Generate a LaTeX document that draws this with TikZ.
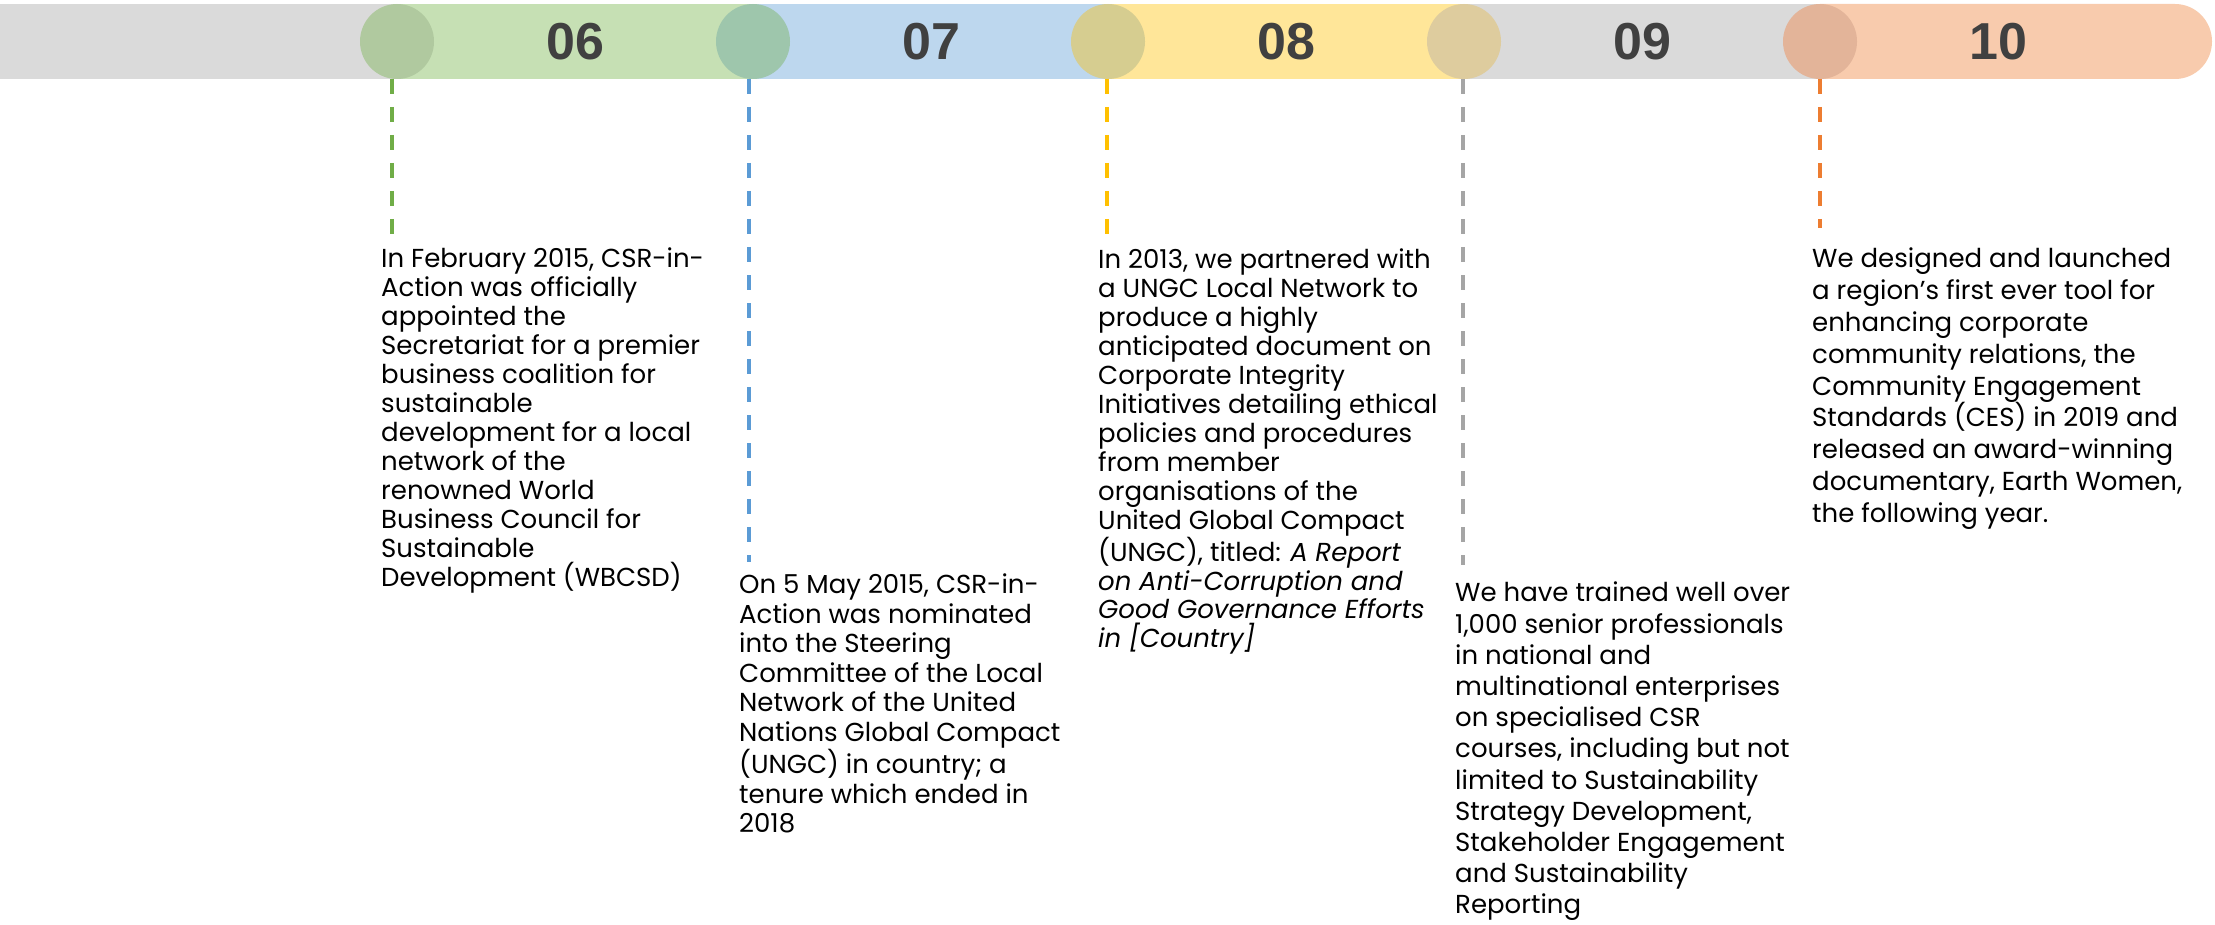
\documentclass[tikz,border=0pt]{standalone}
\usepackage{fontspec}
\usetikzlibrary{shapes.geometric}
\setmainfont{Poppins}
\newfontfamily\numfont{Liberation Sans}
\definecolor{barGray}{HTML}{DADADA}
\definecolor{barGreen}{HTML}{C6E0B4}
\definecolor{barBlue}{HTML}{BDD7EE}
\definecolor{barYellow}{HTML}{FFE699}
\definecolor{barPeach}{HTML}{F8CBAD}
\definecolor{dotGreen}{HTML}{B0C99F}
\definecolor{dotTeal}{HTML}{9EC6AC}
\definecolor{dotOlive}{HTML}{D6CD90}
\definecolor{dotSand}{HTML}{DECC9E}
\definecolor{dotSalmon}{HTML}{E3B499}
\definecolor{lnGreen}{HTML}{70AD47}
\definecolor{lnBlue}{HTML}{5B9BD5}
\definecolor{lnYellow}{HTML}{FFC000}
\definecolor{lnGray}{HTML}{A5A5A5}
\definecolor{lnOrange}{HTML}{ED7D31}
\definecolor{numGray}{HTML}{404040}
\begin{document}
\begin{tikzpicture}[x=1pt,y=-1pt,
  dot/.style={ellipse, minimum width=74pt, minimum height=75pt, inner sep=0pt, draw=none},
  year/.style={font=\numfont\bfseries\fontsize{52}{52}\selectfont, text=numGray, inner sep=0pt},
  leader/.style={line width=3.6pt, dash pattern=on 15pt off 13pt},
  story/.style={anchor=north west, align=left, inner sep=0pt, text=black}]
\useasboundingbox (0,0) rectangle (2215,925);

% timeline bar
\fill[barGray]   (0,4)    rectangle (397,79);
\fill[barGreen]  (397,4)  rectangle (753,79);
\fill[barBlue]   (753,4)  rectangle (1108,79);
\fill[barYellow] (1108,4) rectangle (1464,79);
\fill[barGray]   (1464,4) rectangle (1820,79);
\fill[barPeach]  (1820,4) -- (2175,4)
  arc[start angle=-90, end angle=90, x radius=37, y radius=37.5] -- (1820,79) -- cycle;

% milestone discs
\node[dot, fill=dotGreen]  (m06) at (397,41.5)  {};
\node[dot, fill=dotTeal]   (m07) at (753,41.5)  {};
\node[dot, fill=dotOlive]  (m08) at (1108,41.5) {};
\node[dot, fill=dotSand]   (m09) at (1464,41.5) {};
\node[dot, fill=dotSalmon] (m10) at (1820,41.5) {};

% year numbers
\node[year] (y06) at (575,42)  {06};
\node[year] (y07) at (931,42)  {07};
\node[year] (y08) at (1286,42) {08};
\node[year] (y09) at (1642,42) {09};
\node[year] (y10) at (1998,42) {10};

% leader lines
\coordinate (a06) at (392,79);  \coordinate (b06) at (392,234);
\coordinate (a07) at (749,79);  \coordinate (b07) at (749,562);
\coordinate (a08) at (1107,79); \coordinate (b08) at (1107,234);
\coordinate (a09) at (1463,79); \coordinate (b09) at (1463,565);
\coordinate (a10) at (1820,79); \coordinate (b10) at (1820,228);
\draw[leader, lnGreen]  (a06) -- (b06);
\draw[leader, lnBlue]   (a07) -- (b07);
\draw[leader, lnYellow] (a08) -- (b08);
\draw[leader, lnGray]   (a09) -- (b09);
\draw[leader, lnOrange] (a10) -- (b10);

% descriptions
\node[story, font=\fontsize{26}{29}\selectfont] (t06) at (381,248) {In February 2015, CSR-in-\\Action was officially\\appointed the\\Secretariat for a premier\\business coalition for\\sustainable\\development for a local\\network of the\\renowned World\\Business Council for\\Sustainable\\Development (WBCSD)};
\node[story, font=\fontsize{26}{29.5}\selectfont] (t07) at (739,574) {On 5 May 2015, CSR-in-\\Action was nominated\\into the Steering\\Committee of the Local\\Network of the United\\Nations Global Compact\\(UNGC) in country; a\\tenure which ended in\\2018};
\node[story, font=\fontsize{26}{28.9}\selectfont] (t08) at (1098,249) {In 2013, we partnered with\\a UNGC Local Network to\\produce a highly\\anticipated document on\\Corporate Integrity\\Initiatives detailing ethical\\policies and procedures\\from member\\organisations of the\\United Global Compact\\(UNGC), titled: \textit{A Report}\\\textit{on Anti-Corruption and}\\\textit{Good Governance Efforts}\\\textit{in [Country]}};
\node[story, font=\fontsize{26}{31.2}\selectfont] (t09) at (1455,582) {We have trained well over\\1,000 senior professionals\\in national and\\multinational enterprises\\on specialised CSR\\courses, including but not\\limited to Sustainability\\Strategy Development,\\Stakeholder Engagement\\and Sustainability\\Reporting};
\node[story, font=\fontsize{26}{31.8}\selectfont] (t10) at (1812,248) {We designed and launched\\a region’s first ever tool for\\enhancing corporate\\community relations, the\\Community Engagement\\Standards (CES) in 2019 and\\released an award-winning\\documentary, Earth Women,\\the following year.};
\end{tikzpicture}
\end{document}
